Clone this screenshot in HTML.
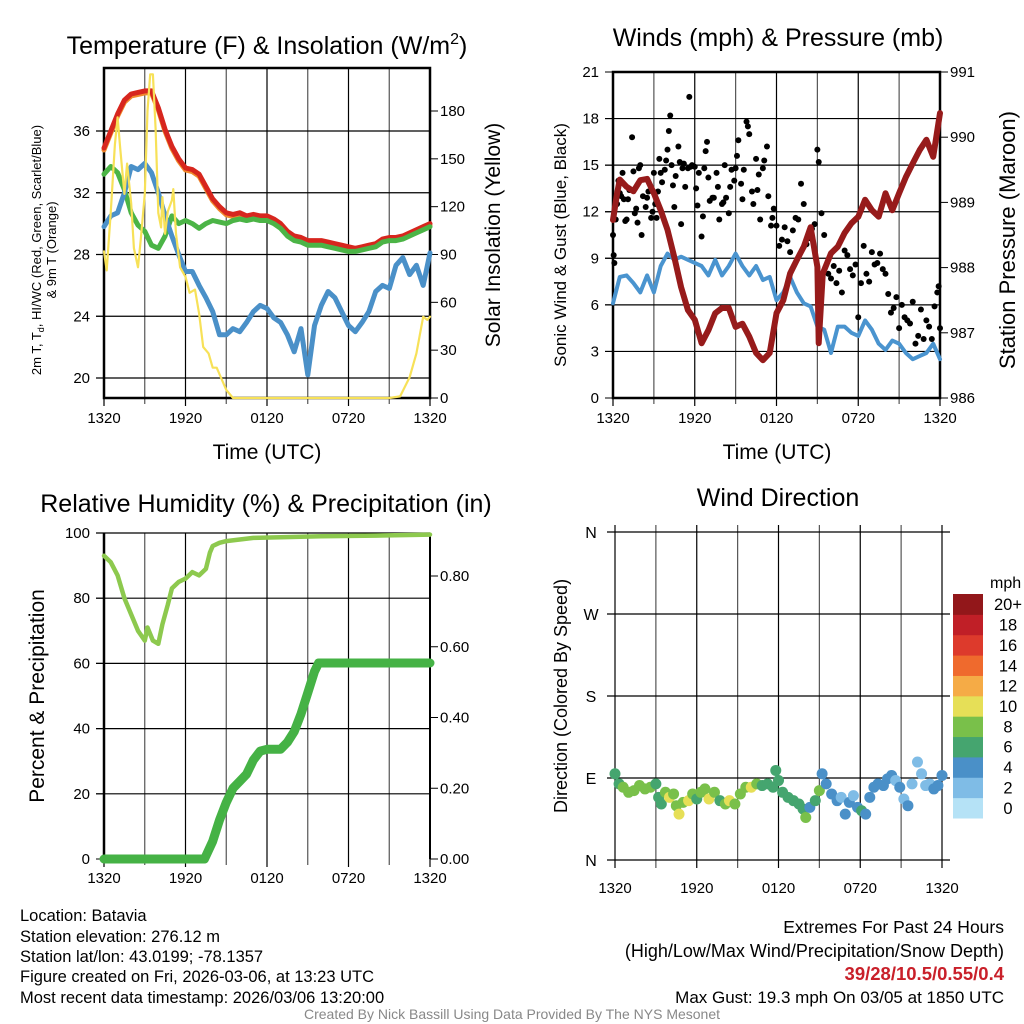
<!DOCTYPE html>
<html><head><meta charset="utf-8"><style>
html,body{margin:0;padding:0;background:#fff;}
svg{display:block;font-family:"Liberation Sans",sans-serif;}
</style></head><body>
<svg id="c" width="1024" height="1024" viewBox="0 0 1024 1024">
<g><text x="267" y="54" font-size="25" text-anchor="middle">Temperature (F) &amp; Insolation (W/m<tspan font-size="16" dy="-10">2</tspan><tspan dy="10">)</tspan></text></g>
<text x="778" y="46" font-size="25" text-anchor="middle">Winds (mph) &amp; Pressure (mb)</text>
<text x="266" y="512" font-size="25" text-anchor="middle">Relative Humidity (%) &amp; Precipitation (in)</text>
<text x="778" y="506" font-size="25" text-anchor="middle">Wind Direction</text>
<text transform="translate(41,250) rotate(-90)" font-size="13" text-anchor="middle">2m T, T<tspan font-size="9" dy="3">d</tspan><tspan dy="-3">, HI/WC (Red, Green, Scarlet/Blue)</tspan></text>
<text transform="translate(56,250) rotate(-90)" font-size="13" text-anchor="middle">&amp; 9m T (Orange)</text>
<text transform="translate(500,235) rotate(-90)" font-size="21" text-anchor="middle">Solar Insolation (Yellow)</text>
<text transform="translate(566,245) rotate(-90)" font-size="17" text-anchor="middle">Sonic Wind &amp; Gust (Blue, Black)</text>
<text transform="translate(1015,240) rotate(-90)" font-size="22" text-anchor="middle">Station Pressure (Maroon)</text>
<text transform="translate(44,696) rotate(-90)" font-size="21" text-anchor="middle">Percent &amp; Precipitation</text>
<text transform="translate(567,696) rotate(-90)" font-size="18" text-anchor="middle">Direction (Colored By Speed)</text>
<text x="267" y="459" font-size="21" text-anchor="middle">Time (UTC)</text>
<text x="777" y="459" font-size="21" text-anchor="middle">Time (UTC)</text>
<g font-size="16.5">
<text x="20" y="921">Location: Batavia</text>
<text x="20" y="942">Station elevation: 276.12 m</text>
<text x="20" y="962">Station lat/lon: 43.0199; -78.1357</text>
<text x="20" y="982">Figure created on Fri, 2026-03-06, at 13:23 UTC</text>
<text x="20" y="1003">Most recent data timestamp: 2026/03/06 13:20:00</text>
</g>
<g text-anchor="end">
<text x="1004" y="933" font-size="17.5">Extremes For Past 24 Hours</text>
<text x="1004" y="957" font-size="18">(High/Low/Max Wind/Precipitation/Snow Depth)</text>
<text x="1004" y="980" font-size="18.5" font-weight="bold" fill="#c9202a">39/28/10.5/0.55/0.4</text>
<text x="1004" y="1003" font-size="17">Max Gust: 19.3 mph On 03/05 at 1850 UTC</text>
</g>
<text x="512" y="1019" font-size="14" fill="#888" text-anchor="middle">Created By Nick Bassill Using Data Provided By The NYS Mesonet</text>
</svg>
<script>
// ---- data ----
const hours = [0,0.5,1,1.5,2,2.5,3,3.5,4,4.5,5,5.5,6,6.5,7,7.5,8,8.5,9,9.5,10,10.5,11,11.5,12,12.5,13,13.5,14,14.5,15,15.5,16,16.5,17,17.5,18,18.5,19,19.5,20,20.5,21,21.5,22,22.5,23,23.5,24];
const tempF = [34.9,36.0,37.1,38.0,38.4,38.5,38.6,38.6,37.5,36.1,35.0,34.2,33.6,33.5,33.2,32.4,31.6,31.1,30.7,30.6,30.7,30.5,30.6,30.5,30.5,30.3,30.0,29.5,29.2,29.1,28.9,28.9,28.9,28.8,28.7,28.6,28.5,28.4,28.5,28.6,28.7,29.0,29.1,29.1,29.2,29.4,29.6,29.8,30.0];
const hiwcF = [33.2,33.7,33.3,32.2,30.7,29.9,29.5,28.6,28.4,29.2,30.5,30.0,30.2,30.0,29.7,30.0,30.2,30.1,30.0,30.2,30.3,30.2,30.3,30.2,30.2,30.0,29.7,29.2,28.9,28.8,28.6,28.6,28.6,28.5,28.4,28.3,28.2,28.2,28.3,28.4,28.5,28.8,28.9,28.9,29.0,29.2,29.4,29.6,29.8];
const dewF = [29.8,30.5,30.7,32.0,33.7,33.5,33.9,33.3,32.0,30.5,29.2,28.0,26.9,26.9,26.0,25.2,24.3,22.8,22.8,23.2,23.0,23.6,24.3,24.7,24.5,23.9,23.6,22.8,21.7,23.2,20.2,23.4,24.7,25.6,25.2,24.3,23.4,23.0,23.6,24.3,25.6,26.0,25.8,27.3,27.8,26.7,27.3,26.0,28.1];
const solarHours = [0,0.2,0.5,0.8,1,1.2,1.5,1.7,2,2.2,2.5,2.7,3,3.2,3.4,3.6,3.8,4,4.2,4.3,4.5,4.7,5,5.1,5.3,5.6,6,6.3,6.7,7,7.3,7.7,8,8.3,8.7,9,9.5,21,21.8,22.5,23,23.5,23.8,24];
const solarW = [92,80,117,159,176,156,128,147,122,94,82,99,128,180,203,203,169,116,107,126,103,117,124,131,103,82,76,66,68,53,32,28,19,19,11,5,0,0,1,13,28,51,49,51];
const pressHours = [0,0.3,0.5,1,1.5,2,2.5,3,3.5,4,4.5,5,5.5,6,6.5,7,7.5,8,8.5,9,9.5,10,10.5,11,11.5,12,12.5,13,13.5,14,14.5,15,15.1,15.4,16,16.5,17,17.5,18,18.5,19,19.5,20,20.5,21,21.5,22,22.5,23,23.5,24];
const pressMb = [988.73,989.14,989.35,989.24,989.17,989.34,989.36,989.14,988.88,988.58,988.16,987.70,987.35,987.20,986.84,987.04,987.30,987.38,987.38,987.09,987.14,986.94,986.69,986.58,986.69,987.30,987.50,987.91,988.12,988.32,988.62,988.01,986.84,987.91,988.22,988.32,988.53,988.68,988.78,989.04,988.88,988.78,989.14,988.88,989.14,989.39,989.60,989.80,989.96,989.70,990.37];
const windMph = [6.1,7.8,7.9,7.4,6.8,7.9,6.8,8.5,9.3,8.9,9.1,8.9,8.7,8.5,7.9,8.9,7.9,8.5,9.3,8.5,7.9,8.5,7.6,7.8,6.3,6.8,7.8,6.8,6.1,5.9,4.6,4.4,2.9,4.6,4.6,4.2,4.0,5.0,4.4,3.5,3.1,3.7,3.5,2.9,2.5,2.7,2.9,3.5,2.5];
const gustHours = [0,0.05,0.1,0.2,0.3,0.4,0.5,0.6,0.7,0.8,0.9,1.0,1.1,1.2,1.4,1.5,1.6,1.7,1.8,1.9,2.0,2.1,2.2,2.4,2.5,2.6,2.8,2.9,3.0,3.1,3.2,3.3,3.4,3.5,3.6,3.8,3.9,4.0,4.1,4.2,4.3,4.4,4.5,4.6,4.8,4.9,5.0,5.1,5.2,5.3,5.5,5.6,5.7,5.8,6.0,6.1,6.2,6.3,6.5,6.6,6.7,6.8,6.9,7.0,7.1,7.3,7.4,7.6,7.7,7.8,8.0,8.1,8.2,8.3,8.5,8.6,8.7,8.9,9.0,9.1,9.2,9.4,9.5,9.6,9.8,9.9,10.0,10.2,10.3,10.5,10.6,10.7,10.8,11.0,11.1,11.3,11.4,11.6,11.7,11.8,12.0,12.2,12.4,12.6,12.8,13.0,13.2,13.4,13.6,13.8,14.0,14.2,14.4,14.6,14.8,15.0,15.1,15.3,15.5,15.8,16.0,16.2,16.4,16.6,16.8,17.0,17.2,17.4,17.6,17.8,18.0,18.2,18.4,18.6,18.8,19.0,19.2,19.4,19.6,19.8,20.0,20.2,20.4,20.6,20.8,21.0,21.2,21.4,21.6,21.8,22.0,22.2,22.4,22.6,22.8,23.0,23.2,23.4,23.6,23.8,23.9,24];
const gustMph = [10.5,9.2,8.7,11.5,12.5,14,13.2,13,14.5,12.8,11.4,11.5,12.8,13.4,16.8,14.6,11.9,12.2,11.3,14.8,15,10.5,13,12.3,12.9,13.3,11.6,12,14.5,12.5,11.6,13.3,15.4,14.5,13.9,14.7,15.3,16,17.2,18.2,15,13.7,12.3,14.3,16.2,15.2,11.2,14.8,15.1,13.6,14.8,19.4,14.9,15,14.9,13.5,12.4,14.5,10.4,11.7,14.8,15.9,16.5,14.2,12.7,12.9,12.9,14.5,13.6,11.5,12.5,12.6,15.0,12.9,11.9,13.6,14.7,14.0,14.8,15.6,16.6,13.8,12.8,14.7,17.8,17.5,17.0,13.3,12.5,15.4,13.4,14.4,11.5,14.8,15.3,16.2,13.0,11.1,11.6,12.2,11.1,9.8,10.2,11.0,10.1,9.4,10.8,11.6,11.5,13.8,12.5,9.9,10.3,10.9,11.2,16.0,15.2,11.9,10.5,8.0,7.7,8.5,7.4,8.2,6.8,9.5,9.2,8.3,7.9,8.6,5.2,7.4,9.8,8.0,7.5,9.4,8.6,8.7,9.3,8.3,8.0,6.7,5.5,5.8,6.5,4.5,6.0,5.2,5.0,4.8,6.2,3.5,4.0,5.7,3.8,5.0,4.6,3.8,5.9,6.8,7.2,4.5];
const rhHours = [0,0.5,1,1.5,2,2.5,3,3.2,3.6,4,4.3,4.7,5,5.5,6,6.5,7,7.5,7.8,8,8.5,9,10,11,13,16,20,24];
const rhPct = [93,91,87,80,75,70,67,71,67,66,72,78,83,85,86,88,87,89,94,96,97,97.5,98,98.5,98.7,99,99.2,99.5];
const precipHours = [0,7.4,8,8.5,9,9.5,10,10.5,11,11.5,12,13,13.5,14,14.5,15,15.5,15.8,24];
const precipIn = [0,0,0.05,0.11,0.16,0.2,0.22,0.24,0.28,0.305,0.31,0.31,0.33,0.36,0.41,0.47,0.53,0.554,0.554];
const dirHours = [0,0.3,0.6,1.0,1.4,1.8,2.2,2.6,3.0,3.2,3.4,3.7,4.0,4.3,4.5,4.7,5.0,5.4,5.7,6.0,6.3,6.6,6.9,7.3,7.7,8.1,8.4,8.8,9.2,9.6,10.0,10.4,10.8,11.2,11.6,11.8,12.0,12.3,12.7,13.1,13.5,13.8,14.0,14.3,14.7,15.0,15.2,15.5,15.9,16.3,16.6,16.9,17.2,17.5,17.8,18.1,18.4,18.7,19.0,19.3,19.7,20.0,20.3,20.6,20.9,21.2,21.5,21.8,22.2,22.5,22.8,23.1,23.4,23.7,24.0];
const dirDeg = [94.6,83.6,79.9,74.3,76.2,81.7,78,79.9,83.6,68.8,61.5,74.3,68.8,72.5,59.6,50.4,63.3,65.1,72.5,67,74.3,78,67,74.3,65.1,61.5,65.1,61.5,72.5,79.9,79.9,83.6,81.7,83.6,79.9,98.3,87.2,74.3,68.8,65.1,61.5,56,46.7,57.8,65.1,76.2,94.6,83.6,72.5,65.1,68.8,50.4,63.3,70.6,57.8,54.1,50.4,68.8,79.9,83.6,81.7,89.1,92.8,87.2,79.9,67,59.6,83.6,107.5,94.6,81.7,83.6,78,81.7,92.8];
const dirSpeed = [6,7,8,8,8,8,9,8,6,6,7,8,10,9,8,10,9,10,8,7,8,9,10,8,7,8,10,9,8,9,10,8,7,6,7,6,6,6,6,6,7,7,8,5,6,9,4,4,4,4,3,4,4,3,4,6,5,4,4,4,4,4,4,3,4,3,4,2,2,2,2,3,4,4,4];
const speedColors = ['#b5e2f6','#7fbce6','#4a90c8','#45a56f','#79c04a','#e6df57','#f5ab46','#ef6a2d','#dd3a2c','#c01f27','#92171a'];
const speedLabels = ['0','2','4','6','8','10','12','14','16','18','20+'];
const timeLabels = ['1320','1920','0120','0720','1320'];
const tempTicks = [20,24,28,32,36];
const solarTicks = [0,30,60,90,120,150,180];
const windTicks = [0,3,6,9,12,15,18,21];
const pressTicks = [986,987,988,989,990,991];
const rhTicks = [0,20,40,60,80,100];
const precipTicks = [0,0.2,0.4,0.6,0.8];
const dirTicks = [0,90,180,270,360];
const dirLabels = ['N','E','S','W','N'];

// ---- helpers ----
const svg = document.getElementById('c');
const NS = 'http://www.w3.org/2000/svg';
function mk(tag, attrs, parent){const e=document.createElementNS(NS,tag);for(const k in attrs)e.setAttribute(k,attrs[k]);(parent||svg).appendChild(e);return e;}
function lin(d0,d1,r0,r1){return v=>r0+(v-d0)*(r1-r0)/(d1-d0);}
function grp(name){const g=mk('g',{});


return g;}
function poly(g,xs,ys,fx,fy,color,w,name){const p=mk('polyline',{points:xs.map((h,i)=>fx(h).toFixed(1)+','+fy(ys[i]).toFixed(1)).join(' '),fill:'none',stroke:color,'stroke-width':w,'stroke-linejoin':'round','stroke-linecap':'round'},g);


return p;}

function frame(g,x0,x1,y0,y1,fx,leftTicks,fyL,leftLab,rightTicks,fyR,rightLab,gridTicks,fyG,box,xLabelsY){
  for(let h=0;h<=24;h+=3){const x=fx(h);const l=mk('line',{x1:x,x2:x,y1:y0,y2:y1+ (h%6==0?8:6),stroke:(h%6==0)?'#000':'#555','stroke-width':1.2},g);
  
  }
  gridTicks.forEach(v=>{const y=fyG(v);const l=mk('line',{x1:x0-8,x2:x1+(rightTicks?0:10),y1:y,y2:y,stroke:'#000','stroke-width':1.2},g);
  
  });
  leftTicks.forEach((v,i)=>{const y=fyL(v);mk('line',{x1:x0-8,x2:x0,y1:y,y2:y,stroke:'#000'},g);
  const t=mk('text',{x:x0-14,y:y+5,'font-size':15,'text-anchor':'end'},g);t.textContent=leftLab(v,i);
  
  });
  if(rightTicks) rightTicks.forEach((v,i)=>{const y=fyR(v);mk('line',{x1:x1,x2:x1+8,y1:y,y2:y,stroke:'#000'},g);
  const t=mk('text',{x:x1+10,y:y+5,'font-size':15},g);t.textContent=rightLab(v);
  
  });
  timeLabels.forEach((s,i)=>{const t=mk('text',{x:fx(i*6),y:xLabelsY,'font-size':15,'text-anchor':'middle'},g);t.textContent=s;
  
  });
  if(box){const r=mk('rect',{x:x0,y:y0,width:x1-x0,height:y1-y0,fill:'none',stroke:'#000','stroke-width':2.5},g);
  
  }
  else if(rightTicks){mk('line',{x1:x0,x2:x0,y1:y0,y2:y1,stroke:'#000','stroke-width':2.5},g);mk('line',{x1:x1,x2:x1,y1:y0,y2:y1,stroke:'#000','stroke-width':2},g);}
}

// ---- panel 1 ----
{const g=grp('temperature-panel');
const fx=lin(0,24,104,430), fyT=lin(36,20,131,378), fyS=lin(0,180,398,111);
const gp=grp('temperature-series');
poly(gp,hours,tempF,fx,v=>fyT(v)+2,'#f08a2c',5,'orange-9m-temp-line');
poly(gp,hours,tempF,fx,fyT,'#d7261e',5,'red-temp-line');
poly(gp,hours,hiwcF,fx,fyT,'#4bb446',5,'green-hiwc-line');
poly(gp,hours,dewF,fx,fyT,'#4a90c8',5,'blue-dewpoint-line');
poly(gp,solarHours,solarW,fx,fyS,'#f7e158',2.2,'yellow-solar-line');
frame(g,104,430,68,398,fx,tempTicks,fyT,v=>v,solarTicks,fyS,v=>v,tempTicks,fyT,true,423);
}
// ---- panel 2 ----
{const g=grp('winds-panel');
const fx=lin(0,24,613,940), fyW=lin(0,21,398,72), fyP=lin(986,991,398,72);
const gp=grp('winds-series');
poly(gp,hours,windMph,fx,fyW,'#4a94cf',4,'sonic-wind-line');
gustHours.forEach((h,i)=>{const c=mk('circle',{cx:fx(h),cy:fyW(gustMph[i]),r:3,fill:'#000'},gp);

});
poly(gp,pressHours,pressMb,fx,fyP,'#971b1b',6,'pressure-line');
frame(g,613,940,72,398,fx,windTicks,fyW,v=>v,pressTicks,fyP,v=>v,[3,6,9,12,15,18],fyW,true,423);
}
// ---- panel 3 ----
{const g=grp('humidity-panel');
const fx=lin(0,24,104,430), fyR=lin(0,100,859,533), fyPr=lin(0,0.8,859,576);
frame(g,104,430,533,859,fx,rhTicks,fyR,v=>v,precipTicks,fyPr,v=>v.toFixed(2),[20,40,60,80,100],fyR,false,883);
const gp=grp('humidity-series');
poly(gp,rhHours,rhPct,fx,fyR,'#8dc94e',4.5,'rh-line');
poly(gp,precipHours,precipIn,fx,fyPr,'#45b245',9,'precip-line');
}
// ---- panel 4 ----
{const g=grp('direction-panel');
const fx=lin(0,24,615,942), fyD=lin(0,360,860,532);
for(let h=0;h<=24;h+=3){const x=fx(h);const l=mk('line',{x1:x,x2:x,y1:525,y2:868,stroke:(h%6==0)?'#000':'#555','stroke-width':1.2},g);

}
dirTicks.forEach((v,i)=>{const y=fyD(v);const l=mk('line',{x1:607,x2:950,y1:y,y2:y,stroke:'#000','stroke-width':1.2},g);


const t=mk('text',{x:591,y:y+6,'font-size':16,'text-anchor':'middle'},g);t.textContent=dirLabels[i];

});
timeLabels.forEach((s,i)=>{const t=mk('text',{x:fx(i*6),y:893,'font-size':15,'text-anchor':'middle'},g);t.textContent=s;

});
const gp=grp('direction-points');
dirHours.forEach((h,i)=>{const ci=Math.min(10,Math.floor(dirSpeed[i]/2));const c=mk('circle',{cx:fx(h),cy:fyD(dirDeg[i]),r:5.5,fill:speedColors[ci]},gp);

});
const cb=grp('speed-colorbar');
const bh=(818-594)/11;
speedColors.forEach((col,i)=>{const y=818-(i+1)*bh;const r=mk('rect',{x:953,y:y,width:30,height:bh+0.5,fill:col},cb);


const t=mk('text',{x:1008,y:y+bh/2+6,'font-size':16.5,'text-anchor':'middle'},cb);t.textContent=speedLabels[i];

});
const u=mk('text',{x:990,y:588,'font-size':16},cb);u.textContent='mph';


}
</script>
</body></html>
